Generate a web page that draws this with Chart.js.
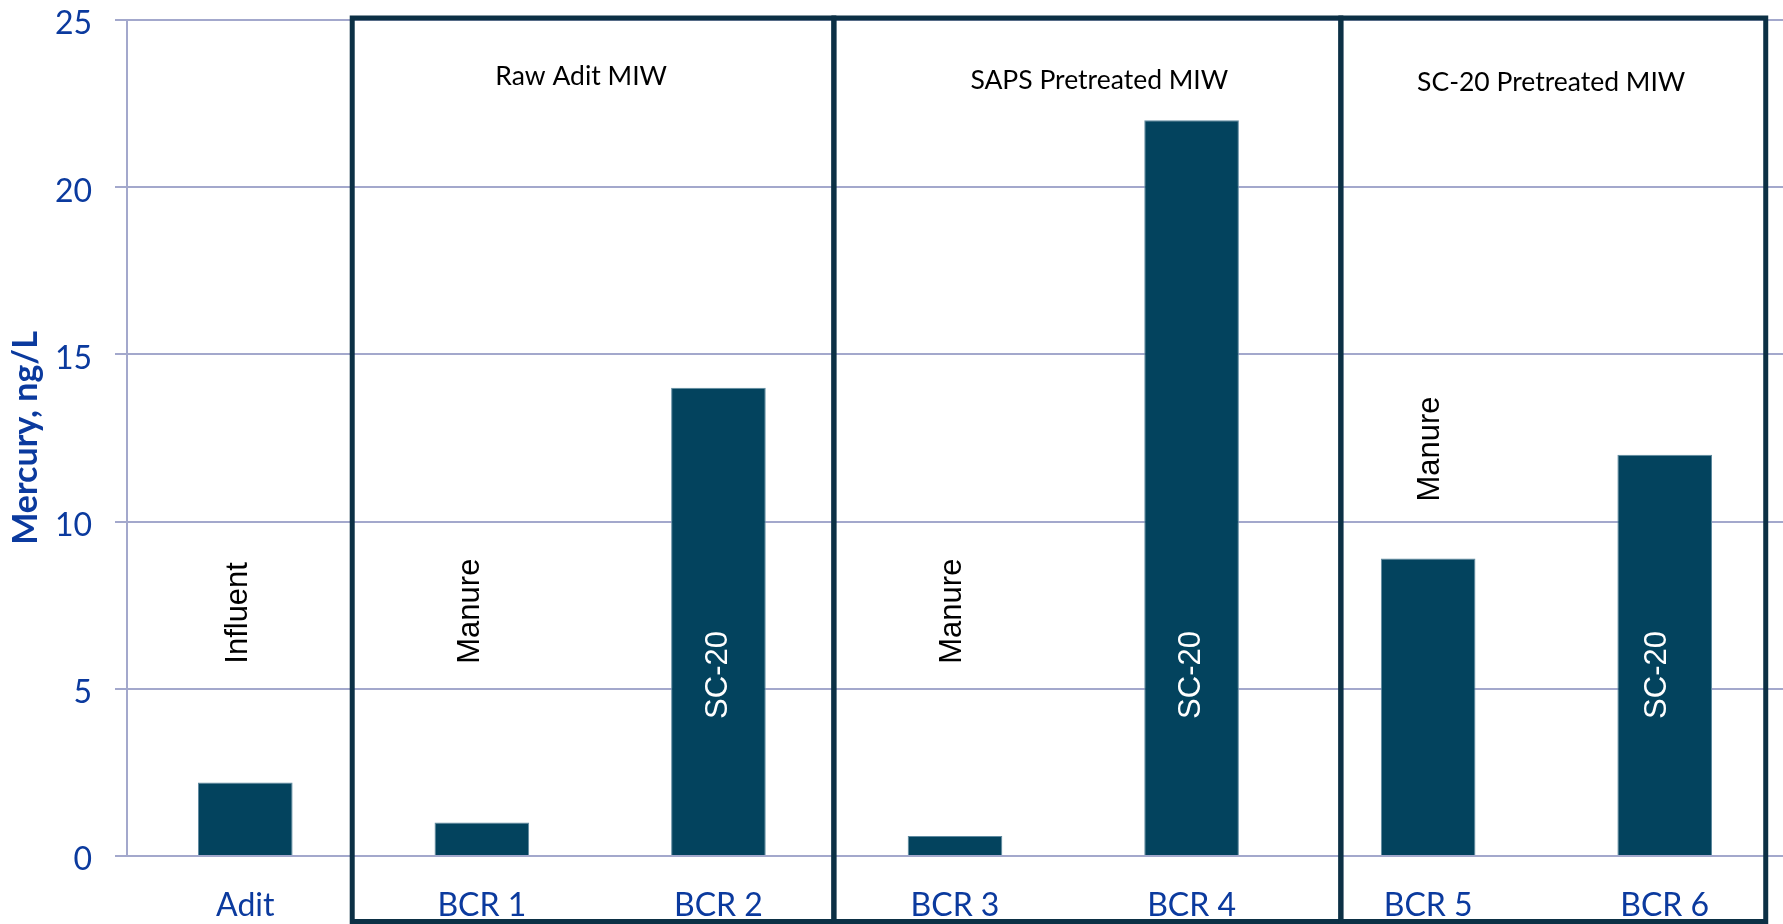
<!DOCTYPE html>
<html>
<head>
<meta charset="utf-8">
<title>Mercury, ng/L</title>
<script src="https://cdn.jsdelivr.net/npm/chart.js@4.4.1/dist/chart.umd.min.js"></script>
<style>
  html, body { margin: 0; padding: 0; background: #fff; }
</style>
</head>
<body>
<canvas id="myChart" width="1783" height="924"></canvas>
<script>
// sample points and mercury concentration (ng/L)
const categories = ['Adit', 'BCR 1', 'BCR 2', 'BCR 3', 'BCR 4', 'BCR 5', 'BCR 6'];
const mercury = [2.2, 1.0, 14.0, 0.6, 22.0, 8.9, 12.0];
const substrate = ['Influent', 'Manure', 'SC-20', 'Manure', 'SC-20', 'Manure', 'SC-20'];
const yTicks = [0, 5, 10, 15, 20, 25];
const groupNames = ['Raw Adit MIW', 'SAPS Pretreated MIW', 'SC-20 Pretreated MIW'];

const tickBlue = '#0b3a9e';
const gridColor = '#a3a8cc';
const barColor = '#03435e';
const frameColor = '#0c3045';

// where each substrate label sits: offset from the bar centre (in categories),
// start value on the y axis, and whether it is written inside the bar
const labelSpots = [
  { dx: -0.03, y: 5.75, inside: false },
  { dx: -0.05, y: 5.75, inside: false },
  { dx: 0.0, y: 4.1, inside: true },
  { dx: -0.01, y: 5.75, inside: false },
  { dx: 0.0, y: 4.1, inside: true },
  { dx: 0.01, y: 10.6, inside: false },
  { dx: -0.03, y: 4.1, inside: true }
];

// frames around the three treatment groups, in category index units
const groupFrames = [
  { from: 0.452, to: 2.488, titleX: 1.42, titleY: 23.3 },
  { from: 2.488, to: 4.631, titleX: 3.61, titleY: 23.2 },
  { from: 4.631, to: 6.427, titleX: 5.52, titleY: 23.12 }
];

const annotations = {
  id: 'groupAnnotations',
  afterDatasetsDraw(chart) {
    const ctx = chart.ctx;
    const xs = chart.scales.x;
    const ys = chart.scales.y;
    ctx.save();
    ctx.font = '31px "Liberation Sans", Arial, sans-serif';
    ctx.textAlign = 'left';
    ctx.textBaseline = 'middle';
    substrate.forEach((txt, i) => {
      const spot = labelSpots[i];
      const px = xs.getPixelForValue(i + spot.dx);
      const py = ys.getPixelForValue(spot.y);
      ctx.save();
      ctx.translate(px, py);
      ctx.rotate(-Math.PI / 2);
      ctx.fillStyle = spot.inside ? '#ffffff' : '#000000';
      ctx.fillText(txt, 0, 0);
      ctx.restore();
    });
    ctx.restore();
  },
  afterDraw(chart) {
    const ctx = chart.ctx;
    const xs = chart.scales.x;
    const ys = chart.scales.y;
    const top = ys.getPixelForValue(25) - 2;
    const bottom = chart.height - 2.5;
    ctx.save();
    ctx.lineWidth = 5;
    ctx.strokeStyle = frameColor;
    groupFrames.forEach(g => {
      const l = xs.getPixelForValue(g.from);
      const r = xs.getPixelForValue(g.to);
      ctx.strokeRect(l, top, r - l, bottom - top);
    });
    ctx.fillStyle = '#000000';
    ctx.font = '26.5px Lato, "Open Sans", sans-serif';
    ctx.textAlign = 'center';
    ctx.textBaseline = 'middle';
    groupFrames.forEach((g, i) => {
      ctx.fillText(groupNames[i], xs.getPixelForValue(g.titleX), ys.getPixelForValue(g.titleY));
    });
    ctx.restore();
  }
};

const ctx = document.getElementById('myChart').getContext('2d');
const myChart = new Chart(ctx, {
  type: 'bar',
  data: {
    labels: categories,
    datasets: [{
      label: 'Mercury, ng/L',
      data: mercury,
      backgroundColor: barColor,
      borderColor: '#5f8aa0',
      borderWidth: 1,
      categoryPercentage: 0.5,
      barPercentage: 0.8
    }]
  },
  options: {
    responsive: false,
    animation: false,
    layout: { padding: { top: 20, right: 0, bottom: 0, left: 0 } },
    plugins: {
      legend: { display: false },
      tooltip: { enabled: false }
    },
    scales: {
      x: {
        grid: { display: false, drawTicks: false },
        border: { display: false },
        ticks: {
          color: tickBlue,
          font: { family: 'Lato', size: 32 },
          padding: 30
        },
        afterFit(scale) { scale.height = 68; }
      },
      y: {
        min: 0,
        max: 25,
        afterBuildTicks(scale) {
          scale.ticks = yTicks.map(v => ({ value: v }));
        },
        grid: { color: gridColor, lineWidth: 2, tickLength: 12 },
        border: { color: gridColor, width: 2 },
        ticks: {
          color: tickBlue,
          font: { family: 'Lato', size: 32 },
          padding: 23,
          labelOffset: 4
        },
        title: {
          display: true,
          text: 'Mercury, ng/L',
          color: tickBlue,
          font: { family: 'Lato', size: 34, weight: 'bold' },
          padding: { top: 6, bottom: 0 }
        },
        afterFit(scale) {
          scale.width = 127;
          // top label may poke above the plot, let the layout padding handle it
          scale.paddingTop = 0;
          scale.paddingBottom = 0;
        }
      }
    }
  },
  plugins: [annotations]
});
</script>
</body>
</html>
